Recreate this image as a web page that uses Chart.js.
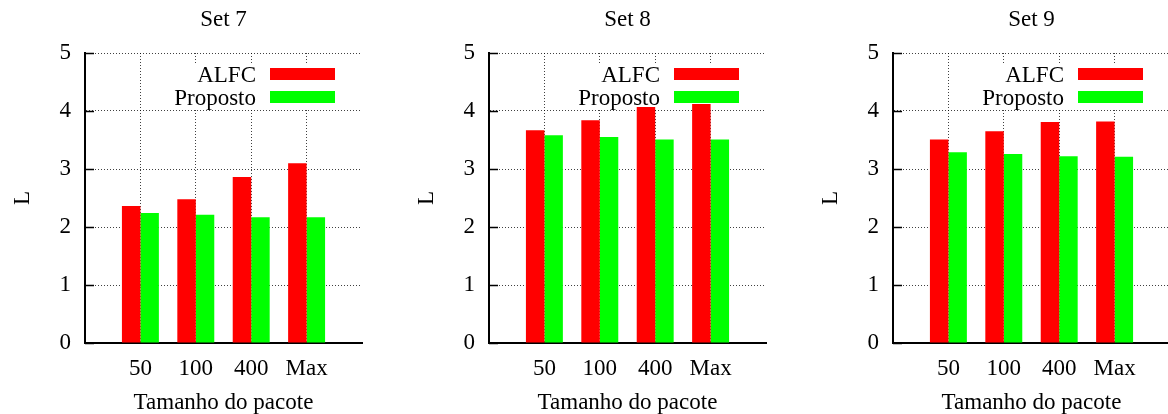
<!DOCTYPE html>
<html>
<head>
<meta charset="utf-8">
<script src="https://cdn.jsdelivr.net/npm/chart.js@4"></script>
<style>
    body { margin: 0; background: #fff; width: 1168px; height: 414px; overflow: hidden; }
    #wrap { display: flex; width: 1212px; height: 414px; }
    .panel { position: relative; flex: none; width: 404px; height: 414px; }
</style>
</head>
<body>
<div id="wrap">
    <div class="panel"><canvas id="set7Chart"></canvas></div>
    <div class="panel"><canvas id="set8Chart"></canvas></div>
    <div class="panel"><canvas id="set9Chart"></canvas></div>
</div>
<script>
const categories = ['50', '100', '400', 'Max'];
const seriesNames = ['ALFC', 'Proposto'];
const yTicks = [0, 1, 2, 3, 4, 5];

const set7Alfc = [2.36, 2.48, 2.86, 3.10];
const set7Proposto = [2.24, 2.21, 2.17, 2.17];
const set8Alfc = [3.67, 3.84, 4.07, 4.12];
const set8Proposto = [3.58, 3.55, 3.51, 3.51];
const set9Alfc = [3.51, 3.65, 3.81, 3.82];
const set9Proposto = [3.29, 3.26, 3.22, 3.21];

const FONT = "'Liberation Serif', 'Times New Roman', serif";
const FONT_SIZE = 23;
const GRID = 'rgba(0,0,0,0.75)';

// titulo, legenda (estilo gnuplot) e marcas internas do eixo y
const gnuplotDecor = {
    id: 'gnuplotDecor',
    beforeDatasetsDraw(chart) {
        const ctx = chart.ctx;
        const area = chart.chartArea;
        ctx.save();
        ctx.fillStyle = '#fff';
        ctx.fillRect(area.left + 86, area.top + 10, 170, 45);
        ctx.font = FONT_SIZE + 'px ' + FONT;
        ctx.textAlign = 'right';
        ctx.textBaseline = 'alphabetic';
        chart.data.datasets.forEach((ds, i) => {
            const rowY = area.top + 21 + i * 23;
            ctx.fillStyle = '#000';
            ctx.fillText(ds.label, area.left + 171, rowY + 8);
            ctx.fillStyle = ds.backgroundColor;
            ctx.fillRect(area.left + 185, rowY - 6, 65, 12);
        });
        ctx.restore();
    },
    afterDraw(chart) {
        const ctx = chart.ctx;
        const area = chart.chartArea;
        const yScale = chart.scales.y;
        ctx.save();
        ctx.strokeStyle = '#000';
        ctx.lineWidth = 1.5;
        ctx.beginPath();
        yTicks.forEach(v => {
            const y = Math.round(yScale.getPixelForValue(v)) + 0.5;
            ctx.moveTo(area.left, y);
            ctx.lineTo(area.left + 9, y);
        });
        ctx.stroke();
        ctx.fillStyle = '#000';
        ctx.font = FONT_SIZE + 'px ' + FONT;
        ctx.textAlign = 'center';
        ctx.textBaseline = 'middle';
        ctx.fillText(chart.options.plugins.panelTitle.text, (area.left + area.right) / 2, 20);
        ctx.restore();
    }
};

function toPoints(values) {
    return values.map((v, i) => ({ x: i, y: v }));
}

function makeChart(canvasId, title, alfc, proposto) {
    return new Chart(document.getElementById(canvasId), {
        type: 'bar',
        data: {
            datasets: [
                { label: seriesNames[0], data: toPoints(alfc), backgroundColor: '#ff0000', borderWidth: 0,
                  categoryPercentage: 0.667, barPercentage: 1.0 },
                { label: seriesNames[1], data: toPoints(proposto), backgroundColor: '#00ff00', borderWidth: 0,
                  categoryPercentage: 0.667, barPercentage: 1.0 }
            ]
        },
        options: {
            responsive: true,
            maintainAspectRatio: false,
            animation: false,
            layout: { padding: { top: 53, right: 42, bottom: 0, left: 0 } },
            plugins: {
                legend: { display: false },
                tooltip: { enabled: false },
                title: { display: false },
                panelTitle: { text: title }
            },
            scales: {
                x: {
                    type: 'linear',
                    min: -1,
                    max: 4,
                    offset: false,
                    afterFit: (scale) => { scale.height = 71; },
                    ticks: {
                        stepSize: 1,
                        autoSkip: false,
                        maxRotation: 0,
                        padding: 12,
                        color: '#000',
                        font: { family: FONT, size: FONT_SIZE },
                        callback: (value) => categories[value] ?? ''
                    },
                    grid: {
                        offset: false,
                        drawTicks: false,
                        lineWidth: 1,
                        color: (ctx) => (ctx.tick && (ctx.tick.value < 0 || ctx.tick.value >= categories.length)) ? 'rgba(0,0,0,0)' : GRID
                    },
                    border: { display: true, color: '#000', width: 2, dash: [1, 2] },
                    title: {
                        display: true,
                        text: 'Tamanho do pacote',
                        color: '#000',
                        font: { family: FONT, size: FONT_SIZE },
                        padding: { top: 0, bottom: -3 }
                    }
                },
                y: {
                    min: 0,
                    max: 5,
                    afterFit: (scale) => { scale.width = 85; },
                    afterBuildTicks: (scale) => { scale.ticks = yTicks.map(v => ({ value: v })); },
                    ticks: {
                        padding: 14,
                        color: '#000',
                        font: { family: FONT, size: FONT_SIZE }
                    },
                    grid: { drawTicks: false, lineWidth: 1, color: GRID },
                    border: { display: true, color: '#000', width: 2, dash: [1, 2] },
                    title: {
                        display: true,
                        text: 'L',
                        color: '#000',
                        font: { family: FONT, size: FONT_SIZE },
                        padding: { top: 9, bottom: 0 }
                    }
                }
            }
        },
        plugins: [gnuplotDecor]
    });
}

document.addEventListener('DOMContentLoaded', () => {
    makeChart('set7Chart', 'Set 7', set7Alfc, set7Proposto);
    makeChart('set8Chart', 'Set 8', set8Alfc, set8Proposto);
    makeChart('set9Chart', 'Set 9', set9Alfc, set9Proposto);
});
</script>
</body>
</html>
